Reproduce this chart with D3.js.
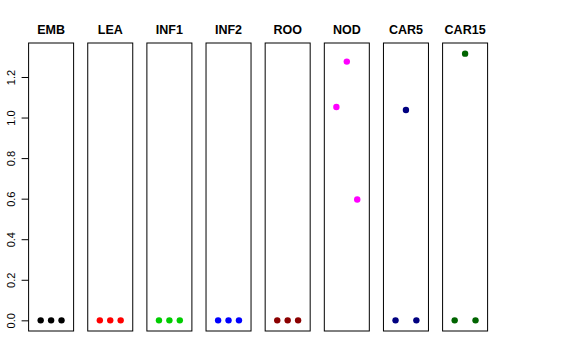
<html>
  <style type="text/css">
    body { margin: 0; background: #fff; }
    text { font-family: "Liberation Sans", Arial, sans-serif; }
  </style>
  <body>
    <script src="https://cdnjs.cloudflare.com/ajax/libs/d3/7.8.5/d3.min.js"></script>
    <script type="text/javascript">
      // tissues, one panel each
      const tissues = ["EMB", "LEA", "INF1", "INF2", "ROO", "NOD", "CAR5", "CAR15"];
      const colours = ["#000000", "#FF0000", "#00CD00", "#0000FF", "#8B0000", "#FF00FF", "#000080", "#006400"];
      // three replicates per tissue
      const values = [
        [0, 0, 0],
        [0, 0, 0],
        [0, 0, 0],
        [0, 0, 0],
        [0, 0, 0],
        [1.052, 1.276, 0.596],
        [0, 1.037, 0],
        [0, 1.315, 0],
      ];
      const yTicks = [0, 0.2, 0.4, 0.6, 0.8, 1.0, 1.2];

      const width = 576, height = 360;
      const svg = d3.select("body").append("svg")
        .attr("width", width)
        .attr("height", height);

      const panel = d3.scaleBand()
        .domain(tissues)
        .range([28.6, 487.6])
        .paddingInner(0.239)
        .paddingOuter(0);

      const yMax = d3.max(values.flat());
      const pad = yMax * 0.04;
      const y = d3.scaleLinear()
        .domain([-pad, yMax + pad])
        .range([331, 43]);

      const x = d3.scaleLinear()
        .domain([-0.16, 4.16])
        .range([0, panel.bandwidth()]);

      // y axis on the first panel
      const axis = svg.append("g")
        .attr("transform", `translate(${panel(tissues[0])},0)`)
        .call(d3.axisLeft(y).tickValues(yTicks).tickSize(7).tickFormat(d3.format(".1f")));
      axis.select(".domain").remove();
      axis.selectAll(".tick line").attr("stroke", "#000");
      axis.selectAll(".tick text")
        .attr("font-size", 11)
        .attr("fill", "#000")
        .attr("text-anchor", "middle")
        .attr("dy", 0)
        .attr("x", 0)
        .attr("transform", "translate(-14,0) rotate(-90)");

      const panels = svg.selectAll("g.panel")
        .data(tissues)
        .enter()
        .append("g")
        .attr("class", "panel")
        .attr("transform", (d) => `translate(${panel(d)},0)`);

      panels.append("rect")
        .attr("x", 0)
        .attr("y", y.range()[1])
        .attr("width", panel.bandwidth())
        .attr("height", y.range()[0] - y.range()[1])
        .attr("fill", "none")
        .attr("stroke", "#000");

      panels.append("text")
        .attr("x", panel.bandwidth() / 2)
        .attr("y", 33.5)
        .attr("text-anchor", "middle")
        .attr("font-size", 12.5)
        .attr("font-weight", "bold")
        .text((d) => d);

      panels.each(function (d, i) {
        d3.select(this).selectAll("circle")
          .data(values[i])
          .enter()
          .append("circle")
          .attr("cx", (v, j) => x(j + 1))
          .attr("cy", (v) => y(v))
          .attr("r", 3.2)
          .attr("fill", colours[i]);
      });
    </script>
  </body>
</html>
